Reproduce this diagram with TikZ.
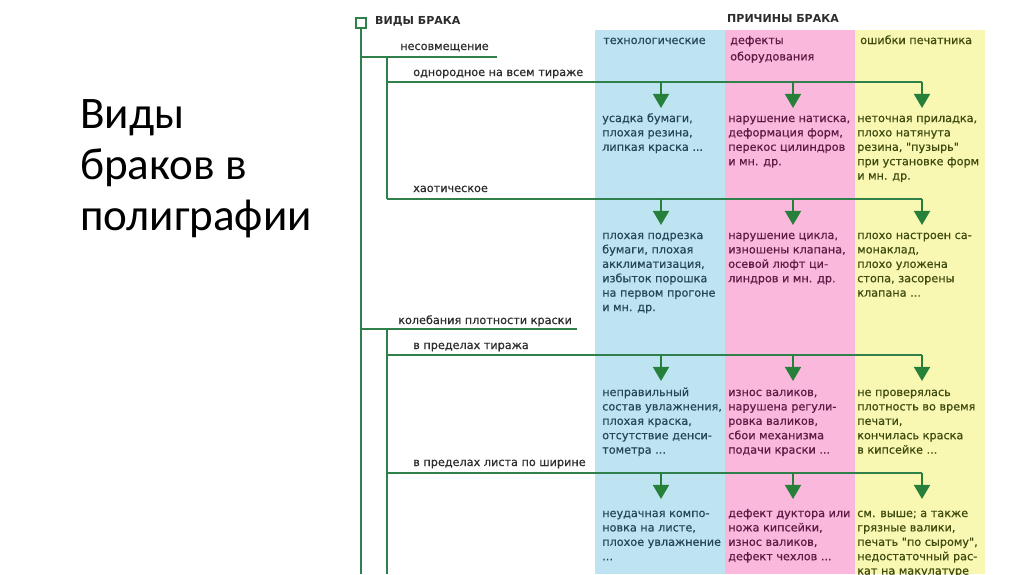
\documentclass[tikz,border=0pt]{standalone}
\usepackage{fontspec}
\setmainfont{DejaVu Sans}
\newfontfamily\medfont{DejaVu Sans}[FakeBold=0.5]
\newfontfamily\titlefont{Carlito}
\usetikzlibrary{arrows.meta}
\definecolor{lng}{RGB}{48,128,76}
\definecolor{arg}{RGB}{38,128,58}
\definecolor{cblue}{RGB}{190,228,242}
\definecolor{cpink}{RGB}{250,184,220}
\definecolor{cyel}{RGB}{248,248,178}
\definecolor{tblue}{RGB}{38,70,85}
\definecolor{tpink}{RGB}{95,25,68}
\definecolor{tyel}{RGB}{62,74,14}
\definecolor{tgray}{RGB}{45,45,45}
\newcommand\mlines[1]{\begin{tabular}[t]{@{}l@{}}#1\end{tabular}}
\begin{document}
\begin{tikzpicture}[x=0.03cm,y=-0.03cm,
  ln/.style={draw=lng,line width=1.7pt},
  arr/.style={draw=arg,line width=1.7pt,-{Triangle[width=13.6pt,length=12pt]}},
  lbl/.style={anchor=base west,inner sep=0pt,text=tgray,font=\medfont\fontsize{9.6}{12}\selectfont},
  hdr/.style={anchor=base west,inner sep=0pt,text=tgray,font=\bfseries\fontsize{9.4}{12}\selectfont},
  ctext/.style={anchor=base west,inner sep=0pt,font=\medfont\fontsize{9.6}{12.3}\selectfont}]
\useasboundingbox[fill=white] (0,0) rectangle (1024,574);
\clip (0,0) rectangle (1024,574);
% column backgrounds
\fill[cblue] (595,30) rectangle (725,574);
\fill[cpink] (725,30) rectangle (855,574);
\fill[cyel] (855,30) rectangle (985,574);
% title
\node[anchor=base west,inner sep=0pt,font=\titlefont\fontsize{38.5}{43.6}\selectfont] (title) at (80,128) {\mlines{Виды\\браков в\\полиграфии}};
% headers
\node[draw=lng,line width=1.7pt,minimum size=8.5pt,inner sep=0pt] (root) at (361,23) {};
\node[hdr] (vidy) at (375,24) {ВИДЫ БРАКА};
\node[hdr] (prich) at (727,22) {ПРИЧИНЫ БРАКА};
\node[lbl,text=tblue] (h1) at (603,44) {технологические};
\node[lbl,text=tpink] (h2) at (730,44) {\mlines{дефекты\\[2pt]оборудования}};
\node[lbl,text=tyel] (h3) at (860,44) {ошибки печатника};
% left labels
\node[lbl] (l1) at (400,50) {несовмещение};
\node[lbl] (l11) at (413,76) {однородное на всем тираже};
\node[lbl] (l12) at (413,192) {хаотическое};
\node[lbl] (l2) at (398,324) {колебания плотности краски};
\node[lbl] (l21) at (413,349) {в пределах тиража};
\node[lbl] (l22) at (413,466) {в пределах листа по ширине};
% tree coordinates
\coordinate (mb) at (361,574);
\coordinate (b1) at (361,57); \coordinate (b1e) at (497,57);
\coordinate (b2) at (361,329); \coordinate (b2e) at (577,329);
\coordinate (v1) at (387,57); \coordinate (v1e) at (387,199);
\coordinate (v2) at (387,329); \coordinate (v2e) at (387,574);
\draw[ln] (root.south) -- (mb);
\draw[ln] (b1) -- (b1e);
\draw[ln] (b2) -- (b2e);
\draw[ln] (v1) -- (v1e);
\draw[ln] (v2) -- (v2e);
% rows
\foreach \r/\y in {1/82,2/199,3/355,4/473}{
  \coordinate (r\r s) at (387,\y);
  \coordinate (r\r e) at (922,\y);
  \draw[ln] (r\r s) -- (r\r e);
  \foreach \c/\x in {a/661,b/793,c/922}{
    \coordinate (r\r\c) at (\x,\y);
    \coordinate (r\r\c t) at (\x,\y+26);
    \draw[arr] (r\r\c) -- (r\r\c t);
  }
}
% row texts
\node[ctext,text=tblue] (t11) at (602,122) {\mlines{усадка бумаги,\\плохая резина,\\липкая краска ...}};
\node[ctext,text=tpink] (t12) at (728,122) {\mlines{нарушение натиска,\\деформация форм,\\перекос цилиндров\\и мн. др.}};
\node[ctext,text=tyel] (t13) at (857,122) {\mlines{неточная приладка,\\плохо натянута\\резина, "пузырь"\\при установке форм\\и мн. др.}};
\node[ctext,text=tblue] (t21) at (602,239) {\mlines{плохая подрезка\\бумаги, плохая\\акклиматизация,\\избыток порошка\\на первом прогоне\\и мн. др.}};
\node[ctext,text=tpink] (t22) at (728,239) {\mlines{нарушение цикла,\\изношены клапана,\\осевой люфт ци-\\линдров и мн. др.}};
\node[ctext,text=tyel] (t23) at (857,239) {\mlines{плохо настроен са-\\монаклад,\\плохо уложена\\стопа, засорены\\клапана ...}};
\node[ctext,text=tblue] (t31) at (602,396) {\mlines{неправильный\\состав увлажнения,\\плохая краска,\\отсутствие денси-\\тометра ...}};
\node[ctext,text=tpink] (t32) at (728,396) {\mlines{износ валиков,\\нарушена регули-\\ровка валиков,\\сбои механизма\\подачи краски ...}};
\node[ctext,text=tyel] (t33) at (857,396) {\mlines{не проверялась\\плотность во время\\печати,\\кончилась краска\\в кипсейке ...}};
\node[ctext,text=tblue] (t41) at (602,517) {\mlines{неудачная компо-\\новка на листе,\\плохое увлажнение\\...}};
\node[ctext,text=tpink] (t42) at (728,517) {\mlines{дефект дуктора или\\ножа кипсейки,\\износ валиков,\\дефект чехлов ...}};
\node[ctext,text=tyel] (t43) at (857,517) {\mlines{см. выше; а также\\грязные валики,\\печать "по сырому",\\недостаточный рас-\\кат на макулатуре}};
\end{tikzpicture}
\end{document}
